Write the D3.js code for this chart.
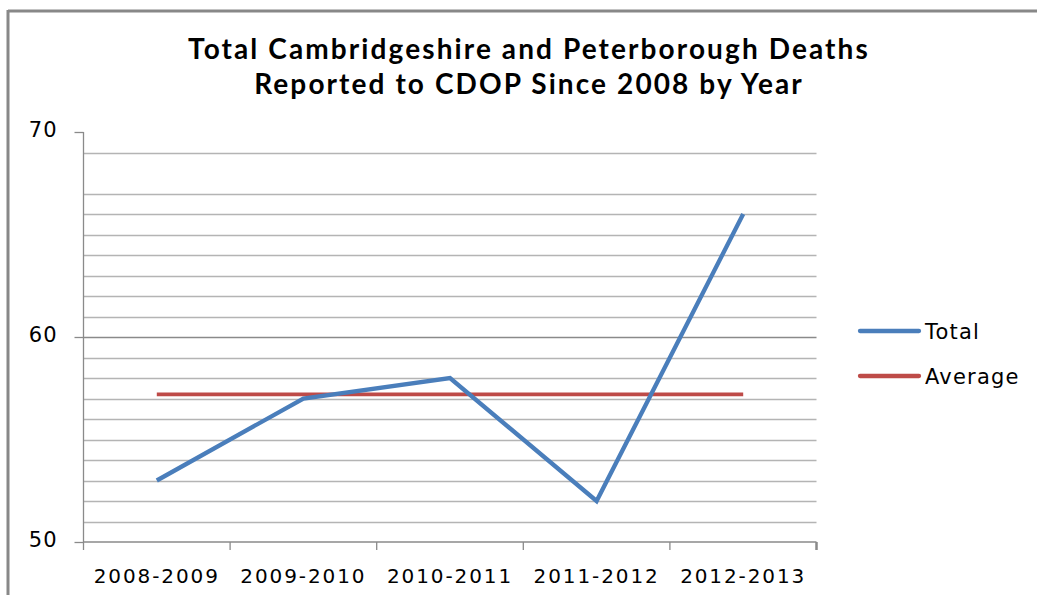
<!DOCTYPE html>
<html><head><meta charset="utf-8">
<script src="https://cdn.jsdelivr.net/npm/d3@7"></script>
<style>body{margin:0;background:#fff}svg{display:block}</style>
</head><body>
<svg id="c" width="1037" height="595"></svg>
<script>
const categories = ["2008-2009","2009-2010","2010-2011","2011-2012","2012-2013"];
const totalValues = [53, 57, 58, 52, 66];
const averageValues = [57.2, 57.2, 57.2, 57.2, 57.2];
const majorTicks = [50, 60, 70];
const minorGrid = [51,52,53,54,55,56,57,58,59,61,62,63,64,65,66,67,69];
const titleLines = ["Total Cambridgeshire and Peterborough Deaths","Reported to CDOP Since 2008 by Year"];
const seriesNames = ["Total","Average"];
const seriesColors = ["#4a7ebb","#be4b48"];

const svg = d3.select("#c");
// frame
svg.append("line").attr("x1",8).attr("x2",1037).attr("y1",11).attr("y2",11).attr("stroke","#888").attr("stroke-width",3);
svg.append("line").attr("x1",8).attr("x2",8).attr("y1",10).attr("y2",595).attr("stroke","#888").attr("stroke-width",3);

const L=83.5, R=816.5, T=132, B=542;
const x = d3.scaleBand().domain(categories).range([L,R]);
const y = d3.scaleLinear().domain([50,70]).range([B,T]);

// minor gridlines
svg.append("g").selectAll("line").data(minorGrid).join("line")
  .attr("x1",L).attr("x2",R).attr("y1",d=>Math.round(y(d))+0.5).attr("y2",d=>Math.round(y(d))+0.5)
  .attr("stroke","#b4b4b4").attr("stroke-width",1.3);
// major gridline
svg.append("g").selectAll("line").data(majorTicks.filter(d=>d>50 && d<70)).join("line")
  .attr("x1",L).attr("x2",R).attr("y1",d=>Math.round(y(d))+0.5).attr("y2",d=>Math.round(y(d))+0.5)
  .attr("stroke","#8a8a8a").attr("stroke-width",1.3);

// y axis
const yAxis = svg.append("g").attr("transform",`translate(${L},0)`)
  .call(d3.axisLeft(y).tickValues(majorTicks).tickSize(9).tickPadding(17).tickFormat(d3.format("d")));
yAxis.select(".domain").attr("stroke","#8a8a8a").attr("stroke-width",1.3).attr("d",`M0,${T}V${B}`);
yAxis.selectAll(".tick line").attr("stroke","#8a8a8a").attr("stroke-width",1.3);
yAxis.selectAll(".tick text").attr("font-family","DejaVu Sans").attr("font-size",21).attr("letter-spacing",1).attr("fill","#000").attr("dy","0.2em");

// x axis
const bounds = categories.map(c=>x(c)).concat([R]);
const xg = svg.append("g");
xg.append("line").attr("x1",L).attr("x2",R).attr("y1",B).attr("y2",B).attr("stroke","#8a8a8a").attr("stroke-width",1.3);
xg.selectAll("line.t").data(bounds).join("line").attr("class","t")
  .attr("x1",d=>d).attr("x2",d=>d).attr("y1",B).attr("y2",B+8)
  .attr("stroke","#8a8a8a").attr("stroke-width",(d,i)=>i===bounds.length-1?2.5:1.3);
xg.selectAll("text").data(categories).join("text")
  .attr("x",d=>x(d)+x.bandwidth()/2).attr("y",B+41).attr("text-anchor","middle")
  .attr("font-family","DejaVu Sans").attr("font-size",20).attr("letter-spacing",1.9).attr("fill","#000")
  .text(d=>d);

const cx = d=>x(d)+x.bandwidth()/2;
const line = d3.line().x((d,i)=>cx(categories[i])).y(d=>y(d));
svg.append("path").datum(averageValues).attr("d",line).attr("fill","none")
  .attr("stroke",seriesColors[1]).attr("stroke-width",3.8);
svg.append("path").datum(totalValues).attr("d",line).attr("fill","none")
  .attr("stroke",seriesColors[0]).attr("stroke-width",4.3).attr("stroke-linejoin","miter");

// legend
const lg = svg.append("g");
seriesNames.forEach((n,i)=>{
  const ly = 331 + i*45;
  lg.append("line").attr("x1",860).attr("x2",919).attr("y1",ly).attr("y2",ly)
    .attr("stroke",seriesColors[i]).attr("stroke-width",4.3).attr("stroke-linecap","round");
  lg.append("text").attr("x",925).attr("y",ly+8).attr("font-family","DejaVu Sans").attr("font-size",21)
    .attr("letter-spacing",1.2).attr("fill","#000").text(n);
});

// title
svg.append("g").selectAll("text").data(titleLines).join("text")
  .attr("x",529).attr("y",(d,i)=>59+i*35).attr("text-anchor","middle")
  .attr("font-family","Lato").attr("font-weight","bold").attr("font-size",28).attr("letter-spacing",2.1).attr("fill","#000")
  .text(d=>d);
</script>
</body></html>
